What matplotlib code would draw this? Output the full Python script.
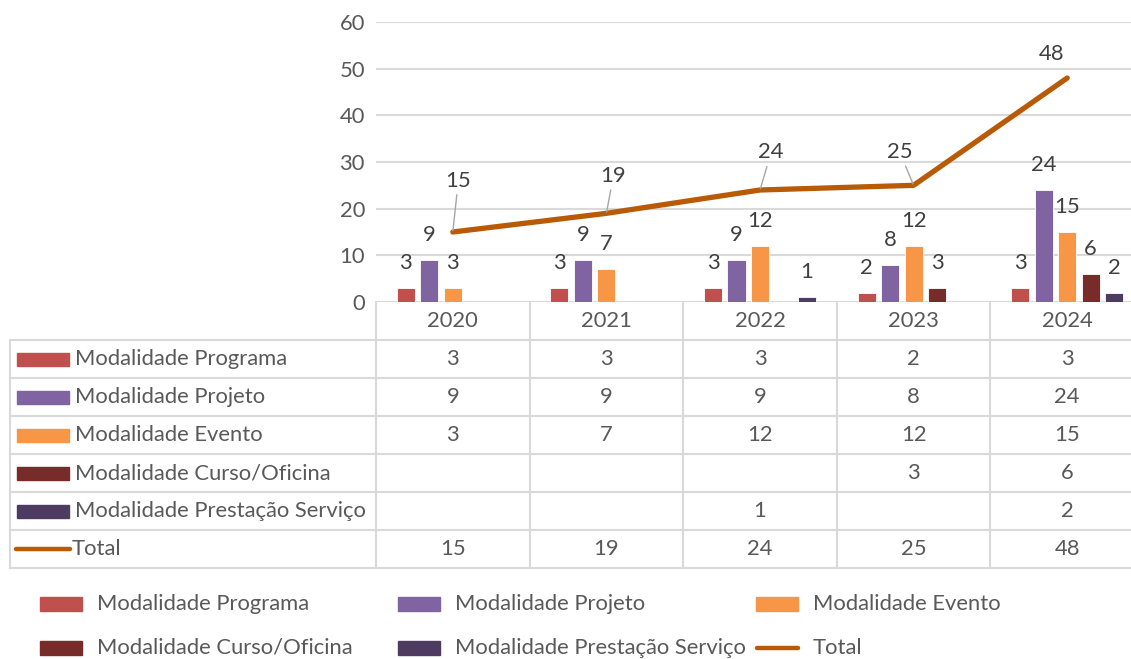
import matplotlib
matplotlib.use("Agg")
import matplotlib.pyplot as plt
from matplotlib.patches import Rectangle
from matplotlib.lines import Line2D
from matplotlib.transforms import blended_transform_factory

# ---------------- data ----------------
years = ["2020", "2021", "2022", "2023", "2024"]
series_names = ["Modalidade Programa", "Modalidade Projeto", "Modalidade Evento",
                "Modalidade Curso/Oficina", "Modalidade Prestação Serviço"]
programa = [3, 3, 3, 2, 3]
projeto = [9, 9, 9, 8, 24]
evento = [3, 7, 12, 12, 15]
curso = [None, None, None, 3, 6]
prestacao = [None, None, 1, None, 2]
total = [15, 19, 24, 25, 48]
yticks = [0, 10, 20, 30, 40, 50, 60]

series = [programa, projeto, evento, curso, prestacao]
colors = ["#C0504D", "#8064A2", "#F79646", "#772C2A", "#4D3B62"]
line_color = "#B85A06"
text_color = "#595959"
grid_color = "#D9D9D9"
FONT = "Lato"
FS = 15.8

W, H = 1131, 659
fig = plt.figure(figsize=(W / 100, H / 100), dpi=100)

def fx(px):
    return px / W

def fy(py):
    return 1 - py / H

# axes: x from 376 to 1144 px, y from 22 (60) to 302 (0)
ax = fig.add_axes([fx(376), fy(302), (1144 - 376) / W, (302 - 22) / H])
ax.set_xlim(-0.5, 4.5)
ax.set_ylim(0, 60)
for s in ax.spines.values():
    s.set_visible(False)
ax.set_xticks([])
ax.set_yticks(yticks)
ax.set_yticklabels([str(v) for v in yticks], fontsize=FS, color=text_color, family=FONT)
ax.tick_params(axis="y", length=0, pad=8)
ax.grid(axis="y", color=grid_color, lw=1.5)
ax.set_axisbelow(True)

step = 0.153
bw = 0.118
for i, (vals, c) in enumerate(zip(series, colors)):
    off = (i - 2) * step
    for j, v in enumerate(vals):
        if v is None:
            continue
        ax.bar(j + off, v, width=bw, color=c, edgecolor="white", lw=0.6, zorder=2)
        ax.annotate(str(v), (j + off, v), xytext=(0, 18), textcoords="offset points",
                    ha="center", va="center", fontsize=FS, color="#404040", family=FONT)

xs = list(range(len(years)))
ax.plot(xs, total, color=line_color, lw=3.8, solid_capstyle="round", zorder=3)
label_offsets = [(4, 37), (5, 27), (8, 27), (-10, 24), (-11, 17)]
for j, (v, off) in enumerate(zip(total, label_offsets)):
    ax.annotate(str(v), (j, v), xytext=off, textcoords="offset points",
                ha="center", va="center", fontsize=FS, color="#404040", family=FONT,
                arrowprops=dict(arrowstyle="-", color="#A6A6A6", lw=1.0,
                                shrinkA=1, shrinkB=1) if j < 4 else None,
                zorder=4)

# ---------------- data table ----------------
bt = blended_transform_factory(ax.transData, fig.transFigure)
lc = grid_color
lw_t = 1.5
row_top = [302, 340, 378, 416, 454, 492, 530, 568]
for k in range(len(years) + 1):
    xv = k - 0.5
    fig.add_artist(Line2D([xv, xv], [fy(302), fy(568)], transform=bt, color=lc, lw=lw_t, clip_on=False))
fig.add_artist(Line2D([fx(10), fx(10)], [fy(340), fy(568)], color=lc, lw=lw_t))
for yy in row_top[1:]:
    fig.add_artist(Line2D([fx(10), fx(1144)], [fy(yy), fy(yy)], color=lc, lw=lw_t))

for j, yr in enumerate(years):
    fig.text(j, fy(321), yr, transform=bt, ha="center", va="center", fontsize=FS,
             color=text_color, family=FONT)

rows = series + [total]
names = series_names + ["Total"]
for r, (name, vals) in enumerate(zip(names, rows)):
    yc = (row_top[r + 1] + row_top[r + 2]) / 2
    if r < 5:
        fig.add_artist(Rectangle((fx(17), fy(yc + 6.5)), fx(52), 13 / H, color=colors[r]))
        tx = 75
    else:
        fig.add_artist(Line2D([fx(16), fx(70)], [fy(yc), fy(yc)], color=line_color, lw=3.2,
                              solid_capstyle="round"))
        tx = 72
    fig.text(fx(tx), fy(yc), name, ha="left", va="center", fontsize=FS, color=text_color, family=FONT)
    for j, v in enumerate(vals):
        if v is None:
            continue
        fig.text(j, fy(yc), str(v), transform=bt, ha="center", va="center", fontsize=FS,
                 color=text_color, family=FONT)

# ---------------- legend ----------------
leg_pos = [(40, 604), (398, 604), (756, 604), (40, 648), (398, 648), (756, 648)]
for k, (name, (lx, ly)) in enumerate(zip(names, leg_pos)):
    if k < 5:
        fig.add_artist(Rectangle((fx(lx), fy(ly + 7)), fx(42), 14 / H, color=colors[k]))
    else:
        fig.add_artist(Line2D([fx(lx + 1), fx(lx + 42)], [fy(ly), fy(ly)], color=line_color, lw=3.2,
                              solid_capstyle="round"))
    fig.text(fx(lx + 57), fy(ly), name, ha="left", va="center", fontsize=FS,
             color=text_color, family=FONT)

fig.savefig("out.png", dpi=100)
